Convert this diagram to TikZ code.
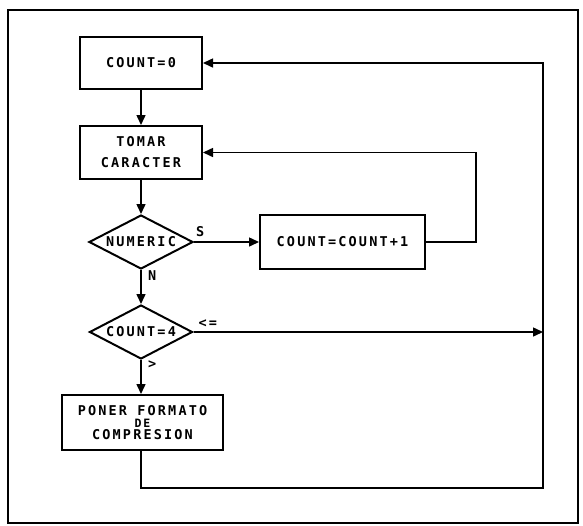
\documentclass[tikz,border=0pt]{standalone}
\usepackage{fontspec}
\setmonofont[LetterSpace=16]{DejaVu Sans Mono}
\usetikzlibrary{shapes.geometric,arrows.meta}
\begin{document}
\begin{tikzpicture}[x=1pt,y=-1pt,
  every node/.style={font=\ttfamily\bfseries\fontsize{13.5pt}{21pt}\selectfont},
  procbox/.style={draw,line width=2pt,rectangle,inner sep=0pt,align=center},
  decision/.style={draw,line width=2pt,diamond,inner sep=0pt},
  arr/.style={line width=1.5pt,-{Triangle[length=10pt,width=9pt]}},
  lbl/.style={inner sep=1pt}]
  % page and outer frame
  \useasboundingbox (0,0) rectangle (583,525);
  \fill[white] (0,0) rectangle (583,525);
  \draw[line width=2pt] (8,10) rectangle (578,523);

  % process steps
  \node[procbox,minimum width=122pt,minimum height=52pt] (c0) at (141,63) {COUNT=0};
  \node[procbox,minimum width=122pt,minimum height=53pt] (tomar) at (141,152.5) {TOMAR\\CARACTER};
  \node[decision,minimum width=104pt,minimum height=54pt] (num) at (141,242) {};
  \node at (num.center) {NUMERIC};
  \node[procbox,minimum width=165pt,minimum height=54pt] (inc) at (342.5,242) {COUNT=COUNT+1};
  \node[decision,minimum width=103pt,minimum height=54pt] (c4) at (141,332) {};
  \node at (c4.center) {COUNT=4};
  \node[procbox,minimum width=161pt,minimum height=55pt,
        font=\ttfamily\bfseries\fontsize{13.5pt}{12pt}\selectfont] (fmt) at (142.5,422.5)
        {PONER FORMATO\\{\fontsize{11.5pt}{12pt}\selectfont DE}\\COMPRESION};

  % loop corners
  \coordinate (innerR) at (476,242);
  \coordinate (join) at (543,332);
  \coordinate (outerR) at (543,488);

  % main flow
  \draw[arr] (c0.south) -- (tomar.north);
  \draw[arr] (tomar.south) -- (num.north);
  \draw[arr] (num.south) -- (c4.north);
  \draw[arr] (c4.south) -- (c4.south |- fmt.north);
  \draw[arr] (num.east) -- (inc.west);

  % counting loop back to reading a character
  \draw[arr] (inc.east) -- (innerR) |- (tomar.east);

  % outer loop back to resetting the counter
  \draw[arr] (c4.east) -- (join);
  \draw[arr] (c4.south |- fmt.south) |- (outerR) |- (c0.east);

  % branch labels (canvas yshift points up)
  \node[lbl,anchor=south west] at ([xshift=1pt,yshift=4pt]num.east) {S};
  \node[lbl,anchor=north west] at ([xshift=6pt,yshift=1pt]num.south) {N};
  \node[lbl,anchor=south west] at ([xshift=4pt,yshift=3pt]c4.east) {<=};
  \node[lbl,anchor=north west] at ([xshift=6pt,yshift=0pt]c4.south) {>};
\end{tikzpicture}
\end{document}
